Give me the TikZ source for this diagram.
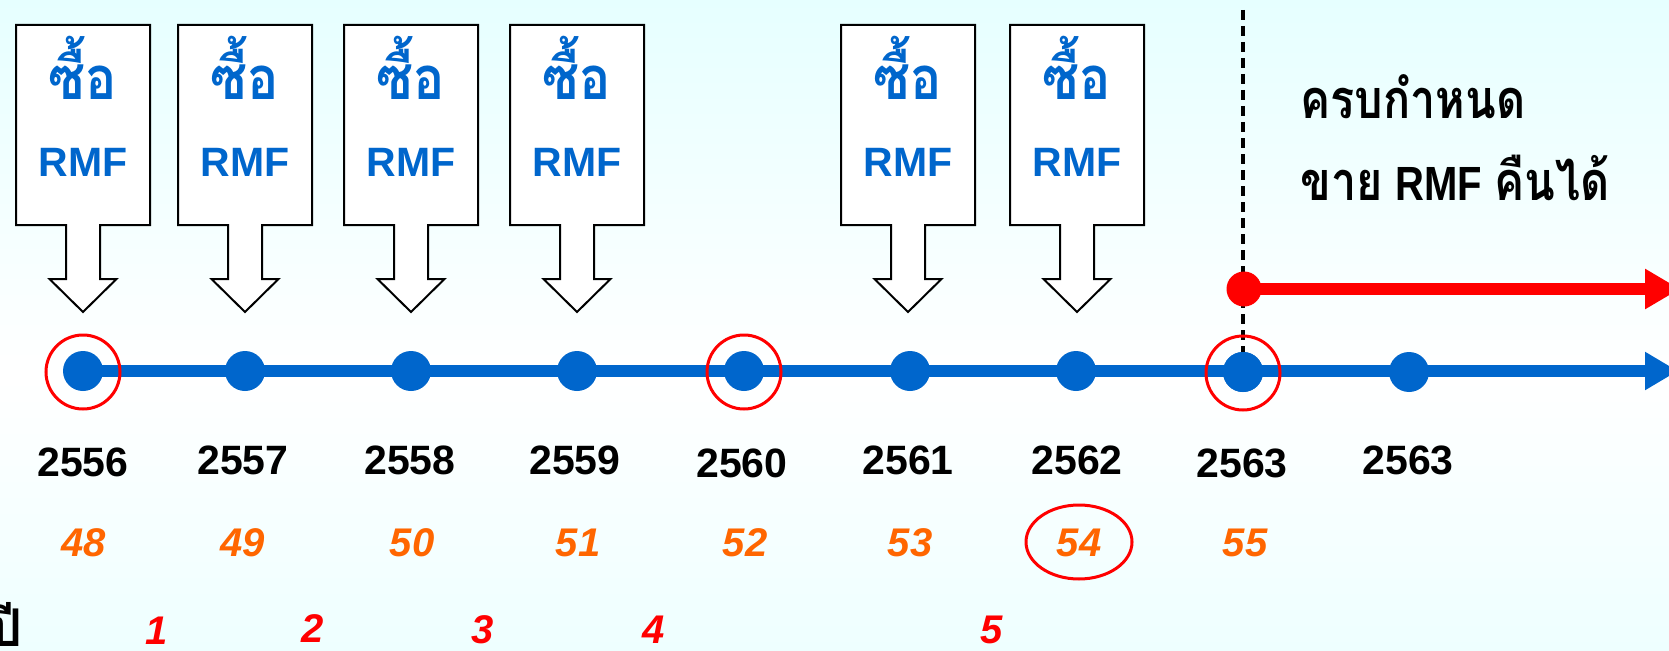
\documentclass[tikz,border=0pt]{standalone}
\usepackage{fontspec}
\setmainfont{Liberation Sans}
\newfontfamily\thaifont[Script=Thai]{Loma}
\usetikzlibrary{arrows.meta}
\definecolor{rmfblue}{HTML}{0066CC}
\definecolor{ageorange}{HTML}{FF6600}
\definecolor{markred}{HTML}{FF0000}
\definecolor{bgtop}{HTML}{E6FFFF}
\definecolor{bgbot}{HTML}{EEFFFF}
\pgfdeclareverticalshading{bgshade}{100bp}{color(0bp)=(bgbot); color(25bp)=(bgbot); color(46bp)=(white); color(75bp)=(bgtop); color(100bp)=(bgtop)}
\newcommand{\tallthai}[1]{\scalebox{1}[1.15]{\thaifont #1}}
\begin{document}
\begin{tikzpicture}[x=1pt,y=-1pt,
  boxline/.style={draw=black,line width=2pt,fill=white,line join=miter},
  boxthai/.style={inner sep=0pt,text=rmfblue,font=\bfseries\fontsize{52}{60}\selectfont},
  boxrmf/.style={inner sep=0pt,text=rmfblue,font=\bfseries\fontsize{41}{48}\selectfont},
  dot/.style={circle,fill=rmfblue,inner sep=0pt,minimum size=40pt},
  ring/.style={circle,draw=markred,line width=3pt,inner sep=0pt,minimum size=74pt},
  yearlbl/.style={inner sep=0pt,font=\bfseries\fontsize{41}{48}\selectfont},
  agelbl/.style={inner sep=0pt,text=ageorange,font=\bfseries\itshape\fontsize{40}{48}\selectfont},
  countlbl/.style={inner sep=0pt,text=markred,font=\bfseries\itshape\fontsize{40}{48}\selectfont},
  righttext/.style={inner sep=0pt,anchor=base west,font=\bfseries\fontsize{45}{54}\selectfont},
  buybox/.pic={
    \draw[boxline] (-67,25) -- (67,25) -- (67,225) -- (17,225) -- (17,279) -- (33.5,279)
      -- (0,312) -- (-33.5,279) -- (-17,279) -- (-17,225) -- (-67,225) -- cycle;
    \node[boxthai,anchor=base] (-t) at (0,100) {\tallthai{ซื้อ}};
    \node[boxrmf] (-r) at (0,162) {RMF};
  }]
\path[shading=bgshade] (0,0) rectangle (1669,650);
\useasboundingbox (0,0) rectangle (1669,650);

% boxes
\pic (b1) at (83,0) {buybox};
\pic (b2) at (245,0) {buybox};
\pic (b3) at (411,0) {buybox};
\pic (b4) at (577,0) {buybox};
\pic (b5) at (908,0) {buybox};
\pic (b6) at (1077,0) {buybox};

% coordinates
\coordinate (d1p) at (83,371);
\coordinate (blueend) at (1678,371);
\coordinate (dashtop) at (1243,10);
\coordinate (redend) at (1680,289);

% dashed line
\node[dot] (d8) at (1243,372) {};
\draw[black,line width=4pt,dash pattern=on 10pt off 6pt] (dashtop) -- (d8.center);

% blue time line
\draw[rmfblue,line width=12pt,-{Triangle[length=33pt,width=36pt]}] (d1p) -- (blueend);
\node[dot] (d1) at (83,371) {};
\node[dot] (d2) at (245,371) {};
\node[dot] (d3) at (411,371) {};
\node[dot] (d4) at (577,371) {};
\node[dot] (d5) at (744,371) {};
\node[dot] (d6) at (910,371) {};
\node[dot] (d7) at (1076,371) {};
\node[dot] at (1243,372) {};
\node[dot] (d9) at (1409,372) {};

% red rings
\node[ring] (r1) at (83,372) {};
\node[ring] (r5) at (744,372) {};
\node[ring] (r8) at (1243,373) {};

% red arrow
\node[circle,fill=markred,inner sep=0pt,minimum size=35pt] (rd) at (1244,289) {};
\draw[markred,line width=12pt,-{Triangle[length=35pt,width=38pt]}] (rd.center) -- (redend);

% right text
\node[righttext] (due) at (1300,118) {\scalebox{1}[1.2]{\thaifont ครบกำหนด}};
\node[righttext] (sell) at (1300,200) {\scalebox{1}[1.2]{{\thaifont ขาย} {\fontsize{40}{48}\selectfont RMF} {\thaifont คืนได้}}};

% years
\node[yearlbl] (y1) at (83,462) {2556};
\node[yearlbl] (y2) at (243,460) {2557};
\node[yearlbl] (y3) at (410,460) {2558};
\node[yearlbl] (y4) at (575,460) {2559};
\node[yearlbl] (y5) at (742,463) {2560};
\node[yearlbl] (y6) at (908,460) {2561};
\node[yearlbl] (y7) at (1077,460) {2562};
\node[yearlbl] (y8) at (1242,463) {2563};
\node[yearlbl] (y9) at (1408,460) {2563};

% ages
\node[agelbl] (a1) at (84,543) {48};
\node[agelbl] (a2) at (243,543) {49};
\node[agelbl] (a3) at (412,543) {50};
\node[agelbl] (a4) at (578,543) {51};
\node[agelbl] (a5) at (745,543) {52};
\node[agelbl] (a6) at (910,543) {53};
\node[agelbl] (a7) at (1079,543) {54};
\node[agelbl] (a8) at (1245,543) {55};
\draw[markred,line width=3pt] (1079,542) ellipse [x radius=53pt,y radius=37pt];

% counts
\node[inner sep=0pt,anchor=base east,font=\thaifont\bfseries\fontsize{52}{60}\selectfont] (pi) at (23,646) {ปี};
\node[countlbl] (c1) at (157,631) {1};
\node[countlbl] (c2) at (313,629) {2};
\node[countlbl] (c3) at (483,630) {3};
\node[countlbl] (c4) at (654,630) {4};
\node[countlbl] (c5) at (992,630) {5};
\end{tikzpicture}
\end{document}
